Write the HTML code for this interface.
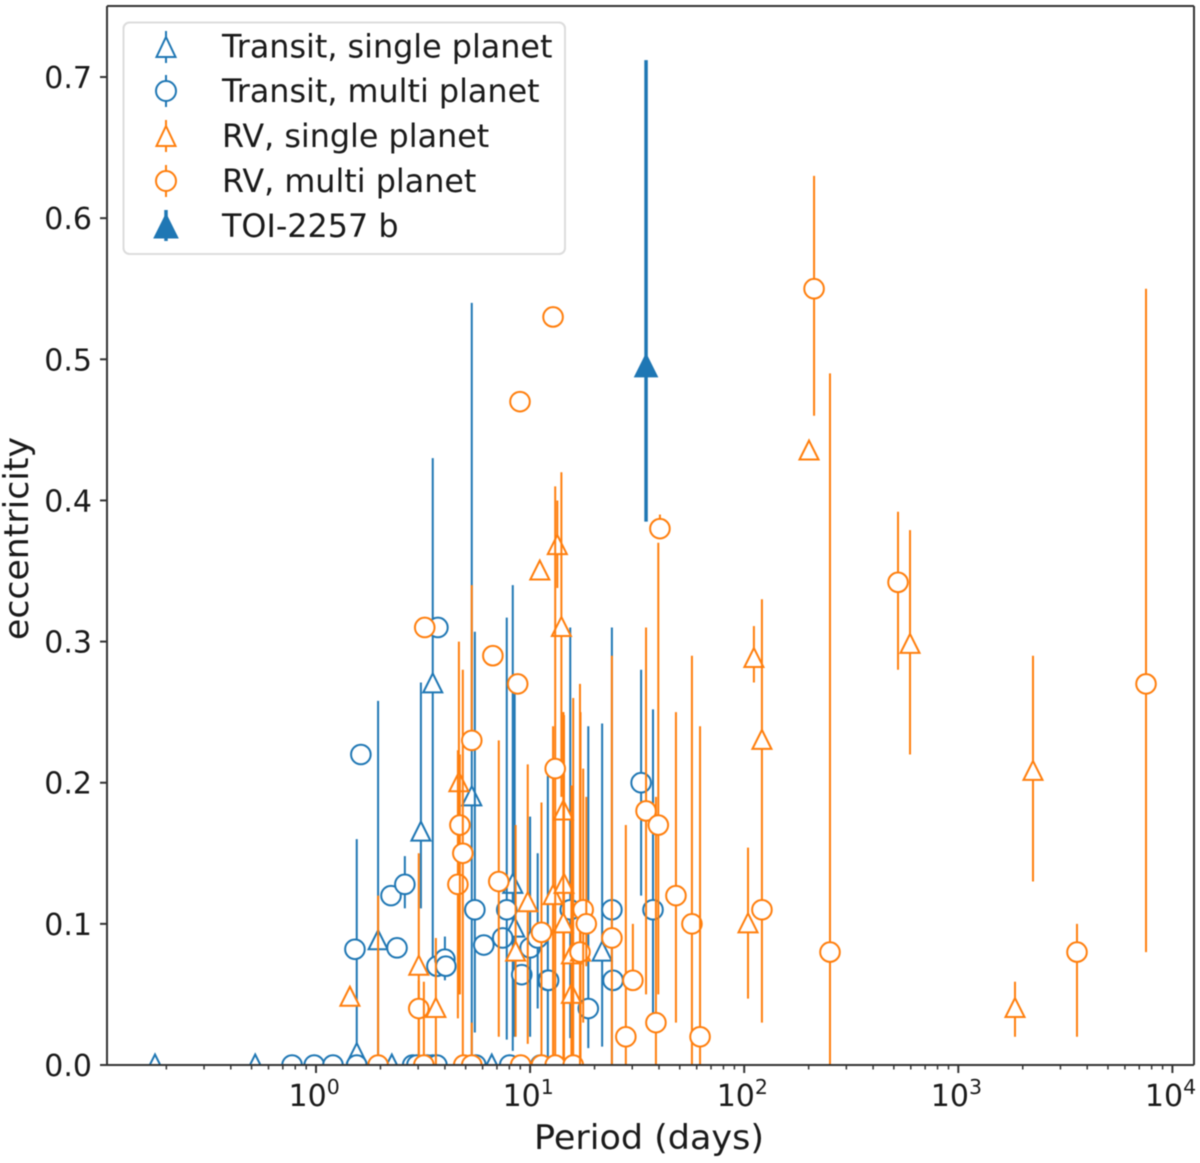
<!DOCTYPE html>
<html lang="en">
<head>
<meta charset="utf-8">
<title>Eccentricity vs period</title>
<style>
html,body{margin:0;padding:0;background:#fff;}
#chart-root{width:1200px;height:1163px;position:relative;overflow:hidden;background:#fff;}
svg{display:block;filter:blur(0.55px);}
text{font-family:"DejaVu Sans","Liberation Sans",sans-serif;fill:#1a1a1a;}
</style>
</head>
<body>
<div id="chart-root">
<svg id="plot" width="1200" height="1163" viewBox="0 0 1200 1163" xmlns="http://www.w3.org/2000/svg">
  <defs>
    <clipPath id="axes-clip"><rect x="107" y="6" width="1087" height="1059"/></clipPath>
  </defs>
  <rect x="107" y="6" width="1087" height="1059" fill="#fff"/>
  <g id="marks" clip-path="url(#axes-clip)"></g>
  <g id="axes"></g>
  <g id="legend">
    <rect x="123.5" y="22.5" width="441.5" height="231.5" rx="6" ry="6" fill="#fff" fill-opacity="0.9" stroke="#dcdcdc" stroke-width="2"/>
    <g>
      <line x1="166" y1="31" x2="166" y2="63" stroke="#1f77b4" stroke-width="2"/>
      <path d="M166 37 L175.5 57 L156.500 57 Z" fill="#fff" stroke="#1f77b4" stroke-width="2"/>
      <text x="222" y="57.500" font-size="31.8">Transit, single planet</text>
    </g>
    <g>
      <line x1="166" y1="75" x2="166" y2="107" stroke="#1f77b4" stroke-width="2"/>
      <circle cx="166" cy="91" r="10" fill="#fff" stroke="#1f77b4" stroke-width="2"/>
      <text x="222" y="102" font-size="31.8">Transit, multi planet</text>
    </g>
    <g>
      <line x1="166" y1="120" x2="166" y2="152" stroke="#ff7f0e" stroke-width="2"/>
      <path d="M166 126 L175.500 146 L156.500 146 Z" fill="#fff" stroke="#ff7f0e" stroke-width="2"/>
      <text x="222" y="147" font-size="31.8">RV, single planet</text>
    </g>
    <g>
      <line x1="166" y1="165" x2="166" y2="197" stroke="#ff7f0e" stroke-width="2"/>
      <circle cx="166" cy="181" r="10" fill="#fff" stroke="#ff7f0e" stroke-width="2"/>
      <text x="222" y="192" font-size="31.8">RV, multi planet</text>
    </g>
    <g>
      <line x1="166" y1="210" x2="166" y2="241" stroke="#1f77b4" stroke-width="3.500"/>
      <path d="M166 214 L178 238 L154 238 Z" fill="#1f77b4" stroke="#1f77b4" stroke-width="1"/>
      <text x="222" y="237" font-size="31.8">TOI-2257 b</text>
    </g>
  </g>
</svg>
</div>
<script>
// Axis tick values
const yTickValues = [0, 0.1, 0.2, 0.3, 0.4, 0.5, 0.6, 0.7];
const yTickLabels = ["0.0", "0.1", "0.2", "0.3", "0.4", "0.5", "0.6", "0.7"];
const xTickExponents = [0, 1, 2, 3, 4];
const xMinorDecades = [-1, 0, 1, 2, 3, 4];
const xMinorMultiples = [2, 3, 4, 5, 6, 7, 8, 9];

// Transit, single planet
const transitSinglePeriod = [0.177, 0.52, 1.55, 1.95, 2.26, 3.09, 3.51, 3.63, 5.34, 6.62, 8.3, 8.47, 21.7];
const transitSingleEcc    = [0, 0, 0.008, 0.088, 0, 0.165, 0.27, 0, 0.19, 0, 0.128, 0.097, 0.08];
const transitSingleErrLo  = [0, 0, 0.008, 0.088, 0, 0.054, 0.195, 0, 0.19, 0, 0.118, 0.077, 0.067];
const transitSingleErrHi  = [0, 0, 0.152, 0.17, 0, 0.106, 0.16, 0, 0.35, 0, 0.212, 0.169, 0.162];

// Transit, multi planet
const transitMultiPeriod = [0.773, 0.981, 1.2, 1.55, 1.52, 1.62, 2.24, 2.6, 2.39, 3.71, 3.67, 4.0, 4.04, 5.52, 6.08, 7.45, 7.78, 9.14, 10, 10.85, 12.1, 12.2, 15.4, 18.7, 24.1, 24.4, 33, 37.5, 2.83, 2.96, 3.3, 3.51, 3.67, 5.58, 8.03, 11.2];
const transitMultiEcc    = [0, 0, 0, 0, 0.082, 0.22, 0.12, 0.128, 0.083, 0.31, 0.07, 0.075, 0.07, 0.11, 0.085, 0.09, 0.11, 0.064, 0.083, 0.09, 0.06, 0.06, 0.11, 0.04, 0.11, 0.06, 0.2, 0.11, 0, 0, 0, 0, 0, 0, 0, 0];
const transitMultiErrLo  = [0, 0, 0, 0, 0, 0, 0, 0.017, 0, 0, 0, 0.015, 0, 0.087, 0, 0, 0.092, 0, 0.063, 0.05, 0.06, 0, 0.091, 0.028, 0.11, 0, 0.08, 0.073, 0, 0, 0, 0, 0, 0, 0, 0];
const transitMultiErrHi  = [0, 0, 0, 0, 0, 0, 0, 0.02, 0, 0, 0, 0.016, 0, 0.197, 0, 0, 0.207, 0, 0.093, 0.06, 0.145, 0, 0.2, 0.2, 0.2, 0, 0.08, 0.142, 0, 0, 0, 0, 0, 0, 0, 0];

// RV, single planet
const rvSinglePeriod = [1.44, 3.02, 3.63, 4.65, 8.56, 9.75, 11.1, 12.8, 13.4, 14, 14.3, 14.4, 14.3, 15.6, 15.6, 17.2, 111, 121, 104.2, 200.8, 595, 1840, 2233];
const rvSingleEcc    = [0.048, 0.07, 0.04, 0.2, 0.08, 0.115, 0.35, 0.12, 0.368, 0.31, 0.18, 0.128, 0.1, 0.05, 0.078, 0.08, 0.288, 0.23, 0.1, 0.435, 0.298, 0.04, 0.208];
const rvSingleErrLo  = [0, 0.07, 0.04, 0.15, 0.06, 0.1, 0, 0.12, 0.03, 0.12, 0.14, 0.128, 0.1, 0.05, 0.078, 0.08, 0.017, 0.2, 0.053, 0, 0.078, 0.02, 0.078];
const rvSingleErrHi  = [0, 0.08, 0.05, 0.1, 0.09, 0.098, 0, 0.12, 0.032, 0.11, 0.07, 0.12, 0.15, 0.1, 0.12, 0.17, 0.023, 0.1, 0.054, 0, 0.081, 0.019, 0.082];

// RV, multi planet
const rvMultiPeriod = [1.95, 3.02, 3.19, 3.22, 4.6, 4.7, 4.85, 4.9, 5.34, 5.34, 6.7, 7.14, 8.75, 8.97, 9.04, 11.3, 11.3, 12.8, 13.1, 13.1, 15.9, 17.1, 17.7, 18.3, 24.1, 28, 30.2, 34.8, 38.7, 39.7, 40.4, 48, 57, 62.2, 121, 212, 251.6, 523, 3584, 7530];
const rvMultiEcc    = [0, 0.04, 0, 0.31, 0.128, 0.17, 0.15, 0, 0.23, 0, 0.29, 0.13, 0.27, 0.47, 0, 0.094, 0, 0.53, 0.21, 0, 0, 0.08, 0.11, 0.1, 0.09, 0.02, 0.06, 0.18, 0.03, 0.17, 0.38, 0.12, 0.1, 0.02, 0.11, 0.55, 0.08, 0.342, 0.08, 0.27];
const rvMultiErrLo  = [0, 0.04, 0, 0, 0.095, 0.12, 0.15, 0, 0, 0, 0, 0.11, 0, 0, 0, 0.094, 0, 0, 0.21, 0, 0, 0.08, 0.08, 0.03, 0.09, 0.02, 0, 0.13, 0.03, 0.12, 0.005, 0.09, 0.1, 0.02, 0, 0.09, 0.08, 0.062, 0.06, 0.19];
const rvMultiErrHi  = [0.12, 0.02, 0.059, 0, 0.095, 0.05, 0.13, 0, 0.11, 0.03, 0, 0.1, 0, 0, 0, 0.092, 0, 0, 0.2, 0, 0.26, 0.19, 0.1, 0.09, 0.2, 0.15, 0.04, 0.13, 0.16, 0.2, 0.01, 0.13, 0.19, 0.22, 0, 0.08, 0.41, 0.05, 0.02, 0.28];

// TOI-2257 b
const toiPeriod = [34.8];
const toiEcc    = [0.495];
const toiErrLo  = [0.11];
const toiErrHi  = [0.217];

const SVG_NS = "http://www.w3.org/2000/svg";
const BLUE = "#1f77b4";
const ORANGE = "#ff7f0e";
const marks = document.getElementById("marks");
const axes = document.getElementById("axes");

function xScale(period) { return 316 + 214.1 * Math.log10(period); }
function yScale(ecc) { return 1065 - 1411.4 * ecc; }

function makeLine(x1, y1, x2, y2, color, width) {
  const l = document.createElementNS(SVG_NS, "line");
  l.setAttribute("x1", x1);
  l.setAttribute("y1", y1);
  l.setAttribute("x2", x2);
  l.setAttribute("y2", y2);
  l.setAttribute("stroke", color);
  l.setAttribute("stroke-width", width);
  return l;
}

function makeTriangle(cx, cy, half, color, fill) {
  const top = cy - half - 1;
  const base = cy + half - 1;
  const p = document.createElementNS(SVG_NS, "path");
  p.setAttribute("d", "M" + cx + " " + top + " L" + (cx + half) + " " + base + " L" + (cx - half) + " " + base + " Z");
  p.setAttribute("fill", fill);
  p.setAttribute("stroke", color);
  p.setAttribute("stroke-width", fill === color ? 1 : 2);
  return p;
}

function makeCircle(cx, cy, r, color) {
  const c = document.createElementNS(SVG_NS, "circle");
  c.setAttribute("cx", cx);
  c.setAttribute("cy", cy);
  c.setAttribute("r", r);
  c.setAttribute("fill", "#fff");
  c.setAttribute("stroke", color);
  c.setAttribute("stroke-width", 2);
  return c;
}

function drawSeries(periods, eccs, errLo, errHi, color, shape, seriesName) {
  periods.forEach(function (period, i) {
    const cx = xScale(period);
    const cy = yScale(eccs[i]);
    if (errLo[i] > 0 || errHi[i] > 0) {
      const bar = makeLine(cx, yScale(eccs[i] + errHi[i]), cx, yScale(eccs[i] - errLo[i]), color, 2);
      
      
      marks.appendChild(bar);
    }
    const marker = shape === "triangle" ? makeTriangle(cx, cy, 9.5, color, "#fff") : makeCircle(cx, cy, 9.8, color);
    
    
    marks.appendChild(marker);
  });
}

function drawAxes() {
  const spines = [[107, 6, 107, 1065], [107, 1065, 1194, 1065], [1194, 6, 1194, 1065], [107, 6, 1194, 6]];
  spines.forEach(function (s) {
    const spine = makeLine(s[0], s[1], s[2], s[3], "#333", 2);
    
    
    axes.appendChild(spine);
  });

  yTickValues.forEach(function (v, i) {
    const y = yScale(v);
    const tick = makeLine(100, y, 107, y, "#333", 2);
    
    
    axes.appendChild(tick);
    const label = document.createElementNS(SVG_NS, "text");
    label.setAttribute("x", 92);
    label.setAttribute("y", y + 11);
    label.setAttribute("text-anchor", "end");
    label.setAttribute("font-size", 30);
    label.textContent = yTickLabels[i];
    
    
    axes.appendChild(label);
  });

  xMinorDecades.forEach(function (d) {
    xMinorMultiples.forEach(function (m) {
      const x = xScale(m * Math.pow(10, d));
      if (x < 107 || x > 1194) { return; }
      const tick = makeLine(x, 1065, x, 1069.5, "#333", 1.5);
      
      
      axes.appendChild(tick);
    });
  });

  xTickExponents.forEach(function (e) {
    const x = xScale(Math.pow(10, e));
    const tick = makeLine(x, 1065, x, 1073, "#333", 2);
    
    
    axes.appendChild(tick);
    const label = document.createElementNS(SVG_NS, "text");
    label.setAttribute("x", x - 27.5);
    label.setAttribute("y", 1106);
    label.setAttribute("font-size", 30);
    label.textContent = "10";
    const sup = document.createElementNS(SVG_NS, "tspan");
    sup.setAttribute("dy", -12);
    sup.setAttribute("font-size", 20.5);
    sup.textContent = String(e);
    label.appendChild(sup);
    
    
    axes.appendChild(label);
  });

  const xTitle = document.createElementNS(SVG_NS, "text");
  xTitle.setAttribute("x", 534);
  xTitle.setAttribute("y", 1149);
  xTitle.setAttribute("font-size", 34);
  xTitle.setAttribute("textLength", 230);
  xTitle.setAttribute("lengthAdjust", "spacingAndGlyphs");
  xTitle.textContent = "Period (days)";
  
  
  axes.appendChild(xTitle);

  const yTitle = document.createElementNS(SVG_NS, "text");
  yTitle.setAttribute("transform", "translate(28 640) rotate(-90)");
  yTitle.setAttribute("font-size", 34);
  yTitle.setAttribute("textLength", 203);
  yTitle.setAttribute("lengthAdjust", "spacingAndGlyphs");
  yTitle.textContent = "eccentricity";
  
  
  axes.appendChild(yTitle);
}

drawSeries(transitSinglePeriod, transitSingleEcc, transitSingleErrLo, transitSingleErrHi, BLUE, "triangle", "transit-single");
drawSeries(transitMultiPeriod, transitMultiEcc, transitMultiErrLo, transitMultiErrHi, BLUE, "circle", "transit-multi");
drawSeries(rvSinglePeriod, rvSingleEcc, rvSingleErrLo, rvSingleErrHi, ORANGE, "triangle", "rv-single");
drawSeries(rvMultiPeriod, rvMultiEcc, rvMultiErrLo, rvMultiErrHi, ORANGE, "circle", "rv-multi");

toiPeriod.forEach(function (period, i) {
  const cx = xScale(period);
  const cy = yScale(toiEcc[i]);
  const bar = makeLine(cx, yScale(toiEcc[i] + toiErrHi[i]), cx, yScale(toiEcc[i] - toiErrLo[i]), BLUE, 3.5);
  
  
  marks.appendChild(bar);
  const marker = makeTriangle(cx, cy, 11.5, BLUE, BLUE);
  
  
  marks.appendChild(marker);
});

drawAxes();
</script>
</body>
</html>
